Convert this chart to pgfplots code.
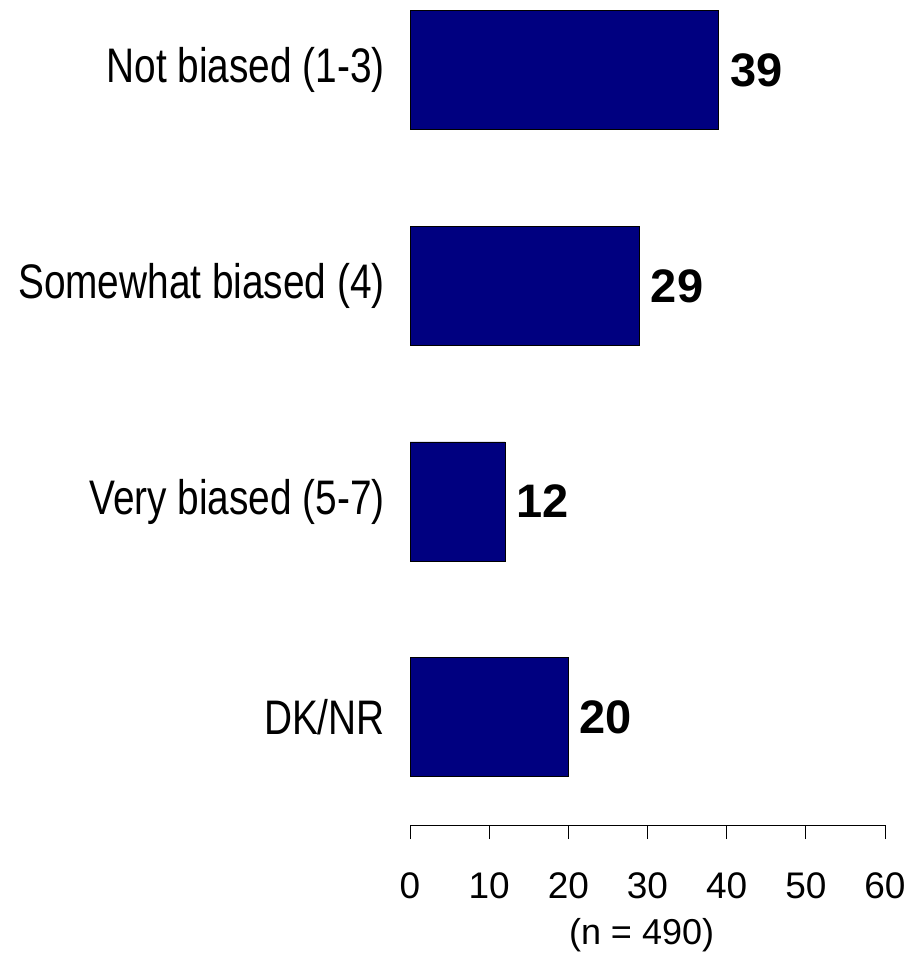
\documentclass[border=0pt]{standalone}
\usepackage{fontspec}
\setmainfont{Liberation Sans}[FakeStretch=0.8]
\newfontfamily\plainfont{Liberation Sans}
\usepackage{pgfplots}
\pgfplotsset{compat=1.18}
\definecolor{barnavy}{RGB}{0,0,128}
\begin{document}
\begin{tikzpicture}[x=1pt,y=1pt]
\begin{axis}[
  at={(410pt,-825pt)}, anchor=south west,
  scale only axis, width=475pt, height=862.7pt,
  xmin=0, xmax=60, ymin=0.5, ymax=4.5,
  xbar, bar width=119pt,
  axis x line*=bottom, axis y line*=left,
  x axis line style={-, line width=1pt},
  y axis line style={draw=none},
  ytick={1,2,3,4},
  yticklabels={DK/NR, Very biased (5-7), Somewhat biased (4), Not biased (1-3)},
  ytick style={draw=none},
  yticklabel style={font=\fontsize{48.5}{58}\selectfont, anchor=east, inner sep=0pt, xshift=-11pt},
  xtick={0,10,...,60},
  xtick style={line width=1pt, black},
  tick align=outside, major tick length=14pt,
  /pgf/number format/assume math mode=true,
  xticklabel style={font=\plainfont\fontsize{37}{45}\selectfont, anchor=north, inner sep=0pt, yshift=-33pt},
  xlabel={(n = 490)},
  xlabel style={at={(axis description cs:0.4875,0)}, anchor=center, yshift=-110.5pt, font=\plainfont\fontsize{36}{44}\selectfont, inner sep=0pt},
  nodes near coords,
  nodes near coords style={font=\plainfont\bfseries\fontsize{47}{56}\selectfont, anchor=west, inner sep=0pt, xshift=11pt, black},
  clip=false,
]
\addplot[fill=barnavy, draw=black, line width=0.8pt] coordinates {(20,1) (12,2) (29,3) (39,4)};
\end{axis}
\pgfresetboundingbox
\path (0,0) rectangle (907,-953);
\end{tikzpicture}
\end{document}
